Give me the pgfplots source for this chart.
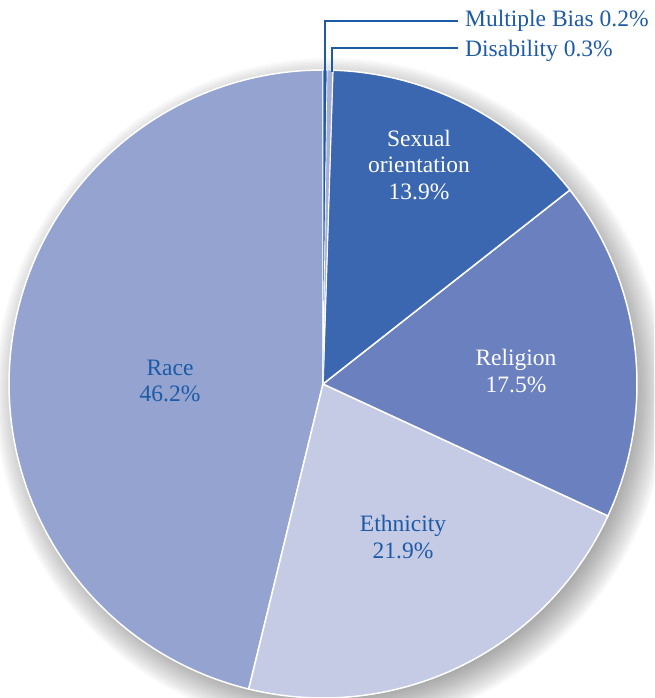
\documentclass[border=0pt]{standalone}
\usepackage{pgfplots}
\pgfplotsset{compat=1.18}
\usepackage{fontspec}
\setmainfont{Liberation Serif}
\definecolor{cRace}{HTML}{94A3D0}
\definecolor{cEth}{HTML}{C5CAE5}
\definecolor{cRel}{HTML}{6A80BF}
\definecolor{cSex}{HTML}{3A67AF}
\definecolor{cMul}{HTML}{1F5AA5}
\definecolor{cDis}{HTML}{A4AED6}
\definecolor{cTxt}{HTML}{1D5BA6}
\begin{document}
\begin{tikzpicture}
\begin{axis}[
  name=pie,
  scale only axis, width=654pt, height=698pt,
  xmin=-323, xmax=331, ymin=-314, ymax=384,
  axis lines=none, clip=true,
  font=\fontsize{23.5}{26.5}\selectfont,
]
% soft shadow
\pgfplotsinvokeforeach{300,302,...,336}{
  \fill[black,opacity=0.024] (axis cs:8,-10) circle[radius=#1];
}
% slices: start at 90 deg, clockwise, 3.6 deg per percent
% Multiple Bias 0.2, Disability 0.3, Sexual orientation 13.9, Religion 17.5, Ethnicity 21.9, Race 46.2
\addplot[fill=cRace, draw=white, line width=1.5pt, domain=-270:-103.68, samples=120, variable=\t]
  ({314*cos(t)},{314*sin(t)}) -- (axis cs:0,0) -- cycle;
\addplot[fill=cEth, draw=white, line width=1.5pt, domain=-103.68:-24.84, samples=80, variable=\t]
  ({314*cos(t)},{314*sin(t)}) -- (axis cs:0,0) -- cycle;
\addplot[fill=cRel, draw=white, line width=1.5pt, domain=-24.84:38.16, samples=70, variable=\t]
  ({314*cos(t)},{314*sin(t)}) -- (axis cs:0,0) -- cycle;
\addplot[fill=cSex, draw=white, line width=1.5pt, domain=38.16:88.2, samples=60, variable=\t]
  ({314*cos(t)},{314*sin(t)}) -- (axis cs:0,0) -- cycle;
\addplot[fill=cDis, draw=white, line width=0.8pt, domain=88.2:89.28, samples=5, variable=\t]
  ({314*cos(t)},{314*sin(t)}) -- (axis cs:0,0) -- cycle;
\addplot[fill=cMul, draw=white, line width=0.6pt, domain=89.28:90, samples=5, variable=\t]
  ({314*cos(t)},{314*sin(t)}) -- (axis cs:0,0) -- cycle;
% leader lines
\draw[cTxt, line width=1.2pt] (axis cs:2,312) -- (axis cs:2,363) -- (axis cs:135,363);
\draw[cTxt, line width=1.2pt] (axis cs:9,312) -- (axis cs:9,336) -- (axis cs:135,336);
\node[anchor=base west, text=cTxt, inner sep=0pt] at (axis cs:142,357) {Multiple Bias 0.2\%};
\node[anchor=base west, text=cTxt, inner sep=0pt] at (axis cs:142,327) {Disability 0.3\%};
% slice labels
\node[align=center, text=white] at (axis cs:96,219) {Sexual\\orientation\\13.9\%};
\node[align=center, text=white] at (axis cs:193,13) {Religion\\17.5\%};
\node[align=center, text=cTxt] at (axis cs:-153,3) {Race\\46.2\%};
\node[align=center, text=cTxt] at (axis cs:80,-153) {Ethnicity\\21.9\%};
\end{axis}
\pgfresetboundingbox
\useasboundingbox (pie.south west) rectangle (pie.north east);
\end{tikzpicture}
\end{document}
